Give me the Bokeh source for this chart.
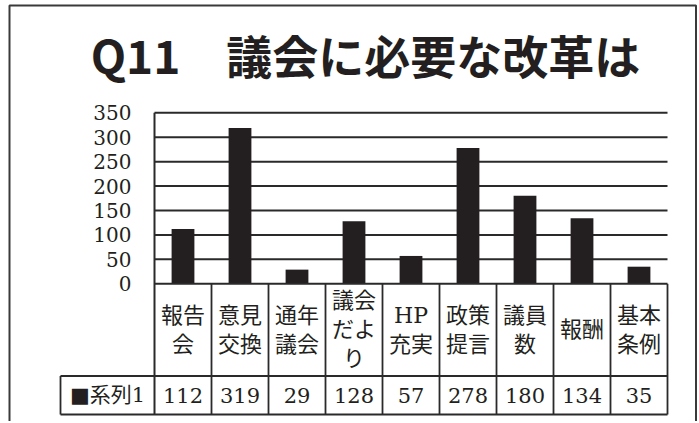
import numpy as np
from bokeh.plotting import figure
from bokeh.models import Range1d
from bokeh.core.properties import value
from bokeh.embed import file_html
from bokeh.resources import INLINE

# ---- data ----
title_text = "Q11　議会に必要な改革は"
categories = ["報告\n会", "意見\n交換", "通年\n議会", "議会\nだよ\nり", "HP\n充実",
              "政策\n提言", "議員\n数", "報酬", "基本\n条例"]
values = [112, 319, 29, 128, 57, 278, 180, 134, 35]
series_name = "■系列1"
y_ticks = [0, 50, 100, 150, 200, 250, 300, 350]

# ---- geometry (page pixels) ----
W, H = 697, 421
PX0, PY0 = 0, 0
plot_left, col_w = 154.0, 57.0
zero_y, top_y = 283.3, 112.3
y_max = y_ticks[-1]
ppu = (zero_y - top_y) / y_max
row_y = 375.5
tbl_bottom = 414.0
tbl_left = 60.0
n = len(values)
tbl_right = plot_left + n * col_w

INK = "#231f20"
LINE = "#2a2a2a"
SERIF = value("DejaVu Serif, Noto Sans CJK JP")

p = figure(width=W, height=H, output_backend="svg", toolbar_location=None,
           x_range=Range1d((PX0 - plot_left) / col_w, (PX0 + W - plot_left) / col_w),
           y_range=Range1d((zero_y - (PY0 + H)) / ppu, (zero_y - PY0) / ppu),
           x_axis_location=None, y_axis_location=None, min_border=0)
p.extra_x_ranges = {"px": Range1d(PX0, PX0 + W)}
p.extra_y_ranges = {"px": Range1d(PY0 + H, PY0)}
p.grid.visible = False
p.outline_line_color = None
p.background_fill_color = "white"
p.border_fill_color = "white"

# outer frame
p.line(x=[9, 9, 695.5, 695.5], y=[PY0 + H + 5, 5, 5, PY0 + H + 5],
       line_color="#3a3a3a", line_width=2,
       x_range_name="px", y_range_name="px")

# gridlines
g = y_ticks[1:]
p.segment(x0=[0] * len(g), x1=[n] * len(g), y0=g, y1=g,
          line_color=LINE, line_width=2)

# bars
xs = np.arange(n) + 0.5
p.vbar(x=xs, top=values, bottom=0, width=0.4, fill_color=INK, line_color=None)

# axis line and zero line
p.segment(x0=[0], x1=[0], y0=[top_y], y1=[tbl_bottom], line_color=LINE,
          line_width=2, y_range_name="px")
p.segment(x0=[0], x1=[n], y0=[0], y1=[0], line_color=LINE, line_width=2)

# table column lines
cols = np.arange(1, n + 1)
p.segment(x0=cols, x1=cols, y0=[zero_y] * n, y1=[tbl_bottom] * n,
          line_color=LINE, line_width=1.8, y_range_name="px")
# table rows
p.segment(x0=[tbl_left, tbl_left], x1=[tbl_right, tbl_right],
          y0=[row_y, tbl_bottom], y1=[row_y, tbl_bottom],
          line_color=LINE, line_width=1.8, x_range_name="px", y_range_name="px")
p.segment(x0=[tbl_left], x1=[tbl_left], y0=[row_y], y1=[tbl_bottom],
          line_color=LINE, line_width=1.8, x_range_name="px", y_range_name="px")

# y tick labels
p.text(x=[131] * len(y_ticks), y=y_ticks, text=[str(t) for t in y_ticks],
       text_font=SERIF, text_font_size="20px", text_color=INK,
       text_align="right", text_baseline="middle", x_range_name="px")

# category labels
cell_mid = (zero_y + row_y) / 2
line_h = 29
lx, ly, lt = [], [], []
for i, lab in enumerate(categories):
    parts = lab.split("\n")
    k = len(parts)
    for j, s in enumerate(parts):
        lx.append(i + 0.5)
        ly.append(cell_mid + (j - (k - 1) / 2) * line_h)
        lt.append(s)
p.text(x=lx, y=ly, text=lt, text_font=SERIF, text_font_size="22px",
       text_color=INK, text_align="center", text_baseline="middle",
       y_range_name="px")

# series row
row_mid = (row_y + tbl_bottom) / 2
p.text(x=xs, y=[row_mid] * n, text=[str(v) for v in values], text_font=SERIF,
       text_font_size="21px", text_color=INK, text_align="center",
       text_baseline="middle", y_range_name="px")
p.text(x=[(tbl_left + plot_left) / 2], y=[row_mid], text=[series_name],
       text_font=SERIF, text_font_size="21px", text_color=INK,
       text_align="center", text_baseline="middle",
       x_range_name="px", y_range_name="px")

# title
p.text(x=[365], y=[53], text=[title_text], text_font=value("Noto Sans CJK JP"),
       text_font_style="bold", text_font_size="46px", text_color=INK,
       text_align="center", text_baseline="middle",
       x_range_name="px", y_range_name="px")

open("out.html", "w").write(file_html(p, INLINE))
